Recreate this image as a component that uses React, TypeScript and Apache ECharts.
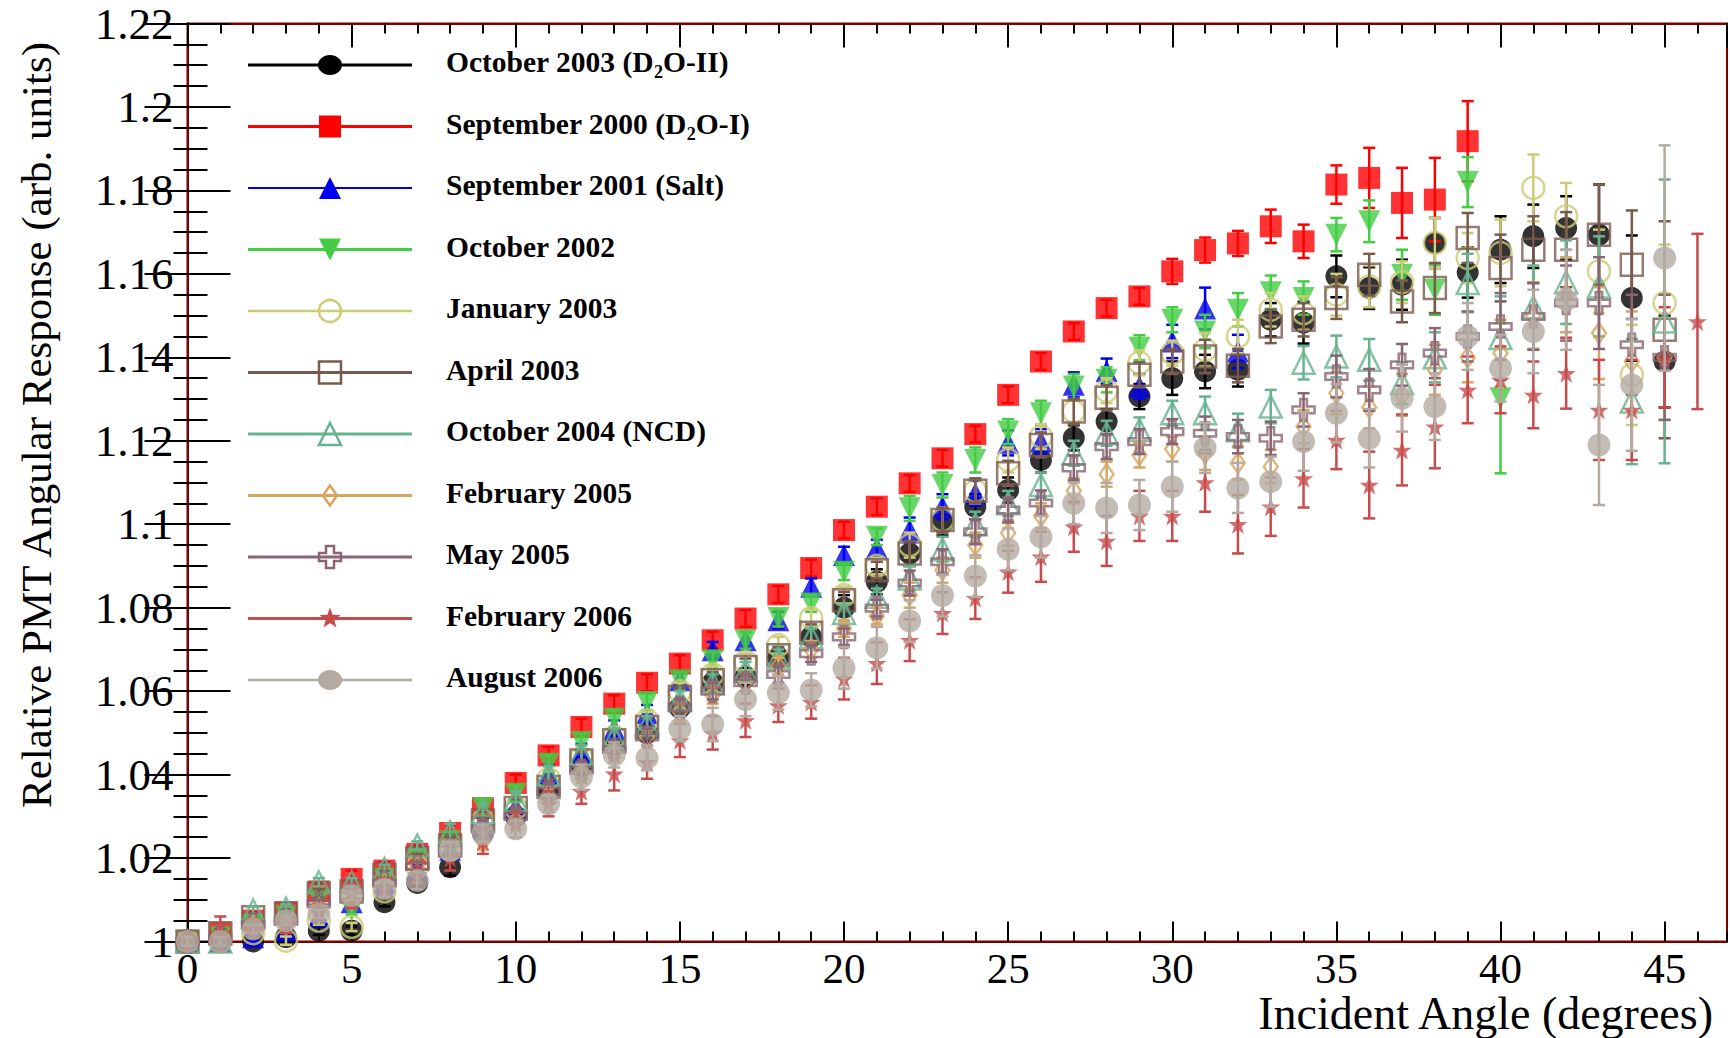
import React, { useEffect, useRef } from "react";
import * as echarts from "echarts";

const ANGLES = [0,1,2,3,4,5,6,7,8,9,10,11,12,13,14,15,16,17,18,19,20,21,22,23,24,25,26,27,28,29,30,31,32,33,34,35,36,37,38,39,40,41,42,43,44,45,46];

const OCT2003 = [1.000,1.000,1.000,1.001,1.0026,1.0026,1.0094,1.014,1.0178,1.026,1.030,1.036,1.042,1.047,1.050,1.056,1.062,1.0634,1.068,1.073,1.080,1.0862,1.093,1.1003,1.1042,1.1082,1.1154,1.1207,1.1246,1.1306,1.135,1.1366,1.137,1.149,1.1483,1.1594,1.1566,1.1574,1.1674,1.1603,1.1658,1.169,1.171,1.1694,1.1542,1.139];
const OCT2003_ERR = [0.001,0.001,0.001,0.001,0.001,0.001,0.001,0.001,0.002,0.002,0.002,0.002,0.002,0.002,0.002,0.002,0.002,0.002,0.002,0.002,0.003,0.003,0.003,0.003,0.003,0.003,0.003,0.003,0.003,0.003,0.004,0.004,0.004,0.004,0.005,0.005,0.005,0.006,0.006,0.006,0.008,0.0076,0.0076,0.012,0.015,0.011];

const SEP2000 = [1.000,1.002,1.005,1.007,1.012,1.015,1.017,1.021,1.026,1.032,1.038,1.0446,1.0514,1.057,1.062,1.0666,1.0722,1.0774,1.0832,1.0895,1.0986,1.1042,1.1098,1.1158,1.1216,1.131,1.139,1.1462,1.1518,1.1546,1.1606,1.1657,1.1673,1.1714,1.1678,1.1814,1.183,1.177,1.1778,1.1918];
const SEP2000_ERR = [0.001,0.001,0.002,0.002,0.002,0.002,0.002,0.002,0.002,0.002,0.002,0.002,0.002,0.002,0.002,0.002,0.002,0.002,0.002,0.002,0.002,0.002,0.002,0.002,0.002,0.002,0.002,0.002,0.002,0.002,0.003,0.003,0.003,0.004,0.004,0.0046,0.0072,0.0084,0.010,0.0096];

const SEP2001 = [1.000,1.000,1.001,1.0026,1.006,1.0094,1.014,1.0175,1.022,1.0278,1.0322,1.0402,1.0454,1.051,1.0547,1.0626,1.0698,1.0722,1.077,1.085,1.0926,1.0943,1.0986,1.1042,1.1074,1.1195,1.1198,1.1334,1.1367,1.133,1.1438,1.1517,1.1414];
const SEP2001_ERR = [0.001,0.001,0.001,0.001,0.001,0.001,0.001,0.001,0.002,0.002,0.002,0.002,0.002,0.002,0.002,0.002,0.002,0.002,0.002,0.002,0.002,0.002,0.003,0.003,0.003,0.003,0.003,0.003,0.003,0.003,0.004,0.005,0.004];

const OCT2002 = [1.000,1.001,1.004,1.006,1.010,1.0074,1.015,1.020,1.024,1.032,1.0354,1.0426,1.0478,1.0534,1.0574,1.0626,1.0674,1.0722,1.0775,1.081,1.0886,1.097,1.1038,1.1094,1.1154,1.1222,1.1266,1.133,1.1346,1.1423,1.149,1.1462,1.1514,1.1556,1.1542,1.1694,1.1726,1.1598,1.1562,1.182,1.1302];
const OCT2002_ERR = [0.001,0.001,0.001,0.001,0.001,0.001,0.001,0.001,0.002,0.002,0.002,0.002,0.002,0.002,0.002,0.002,0.002,0.002,0.002,0.002,0.002,0.002,0.003,0.003,0.003,0.003,0.003,0.003,0.003,0.003,0.003,0.004,0.004,0.004,0.004,0.004,0.005,0.006,0.006,0.006,0.018];

const JAN2003 = [1.000,1.000,1.002,1.0002,1.005,1.0035,1.012,1.018,1.022,1.029,1.032,1.039,1.044,1.049,1.053,1.060,1.064,1.067,1.071,1.0775,1.083,1.090,1.095,1.101,1.108,1.1154,1.121,1.127,1.132,1.1387,1.141,1.1418,1.145,1.1514,1.1506,1.155,1.157,1.158,1.1674,1.1638,1.165,1.1806,1.1738,1.1606,1.1358,1.153];
const JAN2003_ERR = [0.001,0.001,0.001,0.001,0.001,0.001,0.001,0.001,0.002,0.002,0.002,0.002,0.002,0.002,0.002,0.002,0.002,0.002,0.002,0.002,0.002,0.002,0.003,0.003,0.003,0.003,0.003,0.003,0.003,0.003,0.003,0.004,0.004,0.004,0.004,0.005,0.005,0.005,0.006,0.006,0.008,0.008,0.008,0.010,0.012,0.014];

const APR2003 = [1.000,1.002,1.0058,1.0067,1.0115,1.012,1.016,1.020,1.023,1.029,1.032,1.037,1.0434,1.0482,1.0514,1.0586,1.0626,1.0658,1.0686,1.074,1.0818,1.089,1.093,1.101,1.108,1.1122,1.119,1.127,1.1303,1.1358,1.139,1.1402,1.138,1.1474,1.149,1.1542,1.1598,1.1534,1.1566,1.1686,1.1614,1.1658,1.1658,1.1694,1.1622,1.1466];
const APR2003_ERR = [0.001,0.001,0.001,0.001,0.001,0.001,0.001,0.001,0.002,0.002,0.002,0.002,0.002,0.002,0.002,0.002,0.002,0.002,0.002,0.002,0.002,0.002,0.003,0.003,0.003,0.003,0.003,0.003,0.003,0.003,0.003,0.004,0.004,0.004,0.004,0.005,0.005,0.005,0.006,0.006,0.008,0.008,0.009,0.012,0.013,0.026];

const OCT2004 = [1.000,1.000,1.0074,1.0079,1.0142,1.0142,1.0174,1.023,1.0262,1.031,1.034,1.040,1.045,1.049,1.052,1.058,1.062,1.065,1.068,1.073,1.0787,1.0826,1.087,1.094,1.100,1.105,1.1094,1.117,1.1218,1.1226,1.1266,1.1266,1.1225,1.1282,1.1387,1.1402,1.1394,1.1338,1.140,1.1578,1.1446,1.152,1.158,1.157,1.1294,1.1486];
const OCT2004_ERR = [0.001,0.001,0.001,0.001,0.001,0.001,0.001,0.001,0.002,0.002,0.002,0.002,0.002,0.002,0.002,0.002,0.002,0.002,0.002,0.002,0.002,0.002,0.003,0.003,0.003,0.003,0.003,0.003,0.003,0.003,0.003,0.004,0.004,0.004,0.004,0.005,0.005,0.005,0.006,0.007,0.010,0.010,0.010,0.012,0.015,0.034];

const FEB2005 = [1.000,1.001,1.004,1.004,1.008,1.010,1.014,1.018,1.022,1.024,1.029,1.035,1.040,1.045,1.049,1.055,1.059,1.062,1.066,1.070,1.075,1.078,1.083,1.089,1.095,1.0979,1.102,1.108,1.112,1.1166,1.118,1.117,1.1147,1.1138,1.1234,1.1314,1.128,1.131,1.137,1.140,1.141,1.150,1.155,1.1458,1.139,1.140];
const FEB2005_ERR = [0.001,0.001,0.001,0.001,0.001,0.001,0.001,0.001,0.002,0.002,0.002,0.002,0.002,0.002,0.002,0.002,0.002,0.002,0.002,0.002,0.002,0.002,0.003,0.003,0.003,0.003,0.003,0.003,0.003,0.003,0.003,0.004,0.004,0.004,0.004,0.005,0.005,0.005,0.006,0.006,0.008,0.008,0.009,0.011,0.012,0.015];

const MAY2005 = [1.000,1.001,1.004,1.005,1.009,1.011,1.014,1.018,1.022,1.027,1.030,1.036,1.041,1.046,1.049,1.056,1.060,1.062,1.064,1.069,1.073,1.0799,1.0859,1.091,1.0982,1.1034,1.1051,1.1135,1.1186,1.1198,1.1222,1.1218,1.121,1.1206,1.1274,1.1354,1.1322,1.1382,1.141,1.145,1.1474,1.1498,1.153,1.153,1.143,1.140];
const MAY2005_ERR = [0.001,0.001,0.001,0.001,0.001,0.001,0.001,0.001,0.002,0.002,0.002,0.002,0.002,0.002,0.002,0.002,0.002,0.002,0.002,0.002,0.002,0.002,0.003,0.003,0.003,0.003,0.003,0.003,0.003,0.003,0.003,0.004,0.004,0.004,0.004,0.005,0.005,0.005,0.006,0.006,0.008,0.008,0.009,0.011,0.012,0.015];

const FEB2006 = [1.000,1.002,1.003,1.004,1.007,1.010,1.013,1.016,1.020,1.024,1.028,1.033,1.036,1.0402,1.043,1.0482,1.050,1.053,1.0566,1.0574,1.063,1.0667,1.0722,1.0787,1.0823,1.0886,1.0922,1.0994,1.096,1.102,1.102,1.110,1.100,1.1042,1.111,1.1202,1.1094,1.1178,1.1234,1.1322,1.1346,1.131,1.1362,1.1274,1.1274,1.140,1.1486];
const FEB2006_ERR = [0.002,0.004,0.002,0.002,0.002,0.002,0.002,0.002,0.003,0.003,0.003,0.003,0.003,0.004,0.004,0.004,0.004,0.004,0.004,0.004,0.005,0.005,0.005,0.005,0.005,0.005,0.006,0.006,0.006,0.006,0.006,0.007,0.007,0.007,0.007,0.007,0.008,0.0085,0.010,0.008,0.008,0.008,0.0085,0.012,0.012,0.012,0.021];

const AUG2006 = [1.000,1.000,1.003,1.005,1.0066,1.011,1.0126,1.0146,1.0218,1.0259,1.027,1.033,1.0394,1.0447,1.044,1.051,1.052,1.058,1.0596,1.0603,1.0656,1.0704,1.0768,1.0829,1.0876,1.094,1.097,1.105,1.1039,1.1046,1.109,1.1183,1.1087,1.1102,1.1198,1.1266,1.1206,1.1302,1.1282,1.145,1.1374,1.1462,1.1538,1.119,1.1334,1.1638];
const AUG2006_ERR = [0.001,0.001,0.001,0.001,0.001,0.001,0.002,0.002,0.002,0.002,0.002,0.002,0.003,0.003,0.003,0.003,0.004,0.004,0.004,0.004,0.005,0.005,0.005,0.005,0.005,0.005,0.005,0.005,0.006,0.006,0.006,0.006,0.006,0.006,0.007,0.007,0.007,0.008,0.008,0.008,0.008,0.010,0.012,0.0144,0.0158,0.027];

const LABELS = [
  "October 2003 (D2O-II)",
  "September 2000 (D2O-I)",
  "September 2001 (Salt)",
  "October 2002",
  "January 2003",
  "April 2003",
  "October 2004 (NCD)",
  "February 2005",
  "May 2005",
  "February 2006",
  "August 2006",
];
const RICH_LABELS = [
  "October 2003 (D{s|2}O-II)",
  "September 2000 (D{s|2}O-I)",
  "September 2001 (Salt)",
  "October 2002",
  "January 2003",
  "April 2003",
  "October 2004 (NCD)",
  "February 2005",
  "May 2005",
  "February 2006",
  "August 2006",
];
const X_TITLE = "Incident Angle (degrees)";
const Y_TITLE = "Relative PMT Angular Response (arb. units)";

const CROSS_PATH = "path://M35,0 L65,0 L65,35 L100,35 L100,65 L65,65 L65,100 L35,100 L35,65 L0,65 L0,35 L35,35 Z";
const STAR_PATH = "path://M50,0 L61.8,35.1 L97.6,35.1 L68.8,56.8 L79.4,91 L50,70.5 L20.6,91 L31.2,56.8 L2.4,35.1 L38.2,35.1 Z";

type Style = { color: string; kind: string; lw: number };
const STYLES: Style[] = [
  { color: "#000000", kind: "circle", lw: 3 },
  { color: "#ff0000", kind: "square", lw: 3 },
  { color: "#0000ee", kind: "triUp", lw: 2 },
  { color: "#44cc44", kind: "triDown", lw: 3 },
  { color: "#cccc77", kind: "openCircle", lw: 2.5 },
  { color: "#7b5a4e", kind: "openSquare", lw: 3 },
  { color: "#66b38f", kind: "openTri", lw: 3 },
  { color: "#d6a560", kind: "diamond", lw: 3 },
  { color: "#8a6474", kind: "cross", lw: 3 },
  { color: "#c84a4a", kind: "star", lw: 3 },
  { color: "#b3aba3", kind: "grayCircle", lw: 2.5 },
];
const VALUES = [OCT2003, SEP2000, SEP2001, OCT2002, JAN2003, APR2003, OCT2004, FEB2005, MAY2005, FEB2006, AUG2006];
const ERRORS = [OCT2003_ERR, SEP2000_ERR, SEP2001_ERR, OCT2002_ERR, JAN2003_ERR, APR2003_ERR, OCT2004_ERR, FEB2005_ERR, MAY2005_ERR, FEB2006_ERR, AUG2006_ERR];

const FONT = "'Liberation Serif', 'Times New Roman', serif";

function scatterSymbol(kind: string, color: string): any {
  const open = { color: "rgba(0,0,0,0)", borderColor: color, borderWidth: 2.5 };
  switch (kind) {
    case "circle": return { symbol: "circle", symbolSize: 22, itemStyle: { color } };
    case "square": return { symbol: "rect", symbolSize: 22, itemStyle: { color } };
    case "triUp": return { symbol: "triangle", symbolSize: 22, itemStyle: { color } };
    case "triDown": return { symbol: "triangle", symbolSize: 22, symbolRotate: 180, itemStyle: { color } };
    case "openCircle": return { symbol: "circle", symbolSize: 22, itemStyle: open };
    case "openSquare": return { symbol: "rect", symbolSize: 22, itemStyle: open };
    case "openTri": return { symbol: "triangle", symbolSize: 22, itemStyle: open };
    case "diamond": return { symbol: "diamond", symbolSize: [14, 20], itemStyle: open };
    case "cross": return { symbol: CROSS_PATH, symbolSize: 22, itemStyle: open };
    case "star": return { symbol: STAR_PATH, symbolSize: 19, itemStyle: { color } };
    default: return { symbol: "circle", symbolSize: 23, itemStyle: { color } };
  }
}

function legendMarker(kind: string, cx: number, cy: number, color: string): any {
  const s = 11;
  const fill = { fill: color };
  const open = { fill: "none", stroke: color, lineWidth: 2.5 };
  switch (kind) {
    case "circle": return { type: "ellipse", shape: { cx, cy, rx: 12, ry: 10 }, style: fill };
    case "square": return { type: "rect", shape: { x: cx - s, y: cy - s, width: 2 * s, height: 2 * s }, style: fill };
    case "triUp": return { type: "polygon", shape: { points: [[cx, cy - s], [cx + s, cy + s], [cx - s, cy + s]] }, style: fill };
    case "triDown": return { type: "polygon", shape: { points: [[cx, cy + s], [cx + s, cy - s], [cx - s, cy - s]] }, style: fill };
    case "openCircle": return { type: "circle", shape: { cx, cy, r: s }, style: open };
    case "openSquare": return { type: "rect", shape: { x: cx - s, y: cy - s, width: 2 * s, height: 2 * s }, style: open };
    case "openTri": return { type: "polygon", shape: { points: [[cx, cy - s], [cx + s, cy + s], [cx - s, cy + s]] }, style: open };
    case "diamond": return { type: "polygon", shape: { points: [[cx, cy - 10], [cx + 7, cy], [cx, cy + 10], [cx - 7, cy]] }, style: open };
    case "cross": {
      const a = 4, b = 11;
      return { type: "polygon", shape: { points: [[cx - a, cy - b], [cx + a, cy - b], [cx + a, cy - a], [cx + b, cy - a], [cx + b, cy + a], [cx + a, cy + a], [cx + a, cy + b], [cx - a, cy + b], [cx - a, cy + a], [cx - b, cy + a], [cx - b, cy - a], [cx - a, cy - a]] }, style: open };
    }
    case "star": {
      const pts: number[][] = [];
      for (let k = 0; k < 10; k++) {
        const r = k % 2 === 0 ? 11 : 4.5;
        const ang = -Math.PI / 2 + (k * Math.PI) / 5;
        pts.push([cx + r * Math.cos(ang), cy + r * Math.sin(ang)]);
      }
      return { type: "polygon", shape: { points: pts }, style: fill };
    }
    default: return { type: "ellipse", shape: { cx, cy, rx: 12, ry: 10 }, style: fill };
  }
}

const makeErrRender = (color: string) => (_params: any, api: any) => {
  const x = api.value(0), y = api.value(1), e = api.value(2);
  const p1 = api.coord([x, y + e]);
  const p2 = api.coord([x, y - e]);
  const hw = 6;
  const st = { stroke: color, lineWidth: 2.5 };
  return {
    type: "group",
    children: [
      { type: "line", shape: { x1: p1[0], y1: p1[1], x2: p2[0], y2: p2[1] }, style: st },
      { type: "line", shape: { x1: p1[0] - hw, y1: p1[1], x2: p1[0] + hw, y2: p1[1] }, style: st },
      { type: "line", shape: { x1: p2[0] - hw, y1: p2[1], x2: p2[0] + hw, y2: p2[1] }, style: st },
    ],
  };
};

export default function App() {
  const ref = useRef<HTMLDivElement>(null);
  useEffect(() => {
    const chart = echarts.init(ref.current!, null, { renderer: "svg" });
    const XMAX = 46.9;
    const series: any[] = [];
    VALUES.forEach((vals, i) => {
      const st = STYLES[i];
      const errs = ERRORS[i];
      const pts = vals.map((v, j) => [ANGLES[j], v]);
      const errPts = vals.map((v, j) => [ANGLES[j], v, errs[j]]);
      series.push({
        type: "custom",
        name: LABELS[i] + " err",
        renderItem: makeErrRender(st.color),
        data: errPts,
        encode: { x: 0, y: 1 },
        z: 2 + i * 2,
        silent: true,
        clip: false,
      });
      series.push({
        type: "scatter",
        name: LABELS[i],
        data: pts,
        z: 3 + i * 2,
        silent: true,
        ...scatterSymbol(st.kind, st.color),
      });
    });

    const tickBlack = { color: "#000", width: 2 };
    const frame = { show: true, lineStyle: { color: "#7a0000", width: 2 } };
    const graphics: any[] = [];
    LABELS.forEach((_l, i) => {
      const st = STYLES[i];
      const cy = 65 + i * 61.5;
      graphics.push({ type: "line", shape: { x1: 248, y1: cy, x2: 412, y2: cy }, style: { stroke: st.color, lineWidth: st.lw }, z: 100 });
      graphics.push({ ...legendMarker(st.kind, 330, cy, st.color), z: 101 });
      graphics.push({
        type: "text",
        x: 446,
        y: cy - 3,
        z: 101,
        style: {
          text: RICH_LABELS[i],
          fill: "#000",
          fontFamily: FONT,
          fontSize: 29.5,
          fontWeight: "bold",
          verticalAlign: "middle",
          align: "left",
          rich: { s: { fontSize: 18, fontWeight: "bold", fontFamily: FONT, padding: [20, 0, 0, 0] } },
        },
      });
    });
    graphics.push({
      type: "text", x: 1713, y: 1013, z: 101,
      style: { text: X_TITLE, fill: "#000", fontFamily: FONT, fontSize: 46, lineHeight: 42, align: "right", verticalAlign: "middle" },
    });
    graphics.push({
      type: "text", x: 36, y: 425, rotation: Math.PI / 2, z: 101,
      style: { text: Y_TITLE, fill: "#000", fontFamily: FONT, fontSize: 43, align: "center", verticalAlign: "middle" },
    });

    const tk = (len: number) => ({ inside: true, length: len, lineStyle: tickBlack });
    chart.setOption({
      animation: false,
      backgroundColor: "#ffffff",
      grid: { left: 187.5, right: 3, top: 23.5, bottom: 96.5, show: true, borderColor: "#7a0000", borderWidth: 2, backgroundColor: "rgba(0,0,0,0)" },
      xAxis: [
        {
          type: "value", min: 0, max: XMAX, interval: 5, position: "bottom",
          axisLine: frame, splitLine: { show: false },
          axisTick: tk(20),
          axisLabel: { showMaxLabel: false, fontFamily: FONT, fontSize: 43, lineHeight: 38, color: "#000", margin: 8 },
        },
        { type: "value", min: 0, max: XMAX, interval: 1, position: "bottom", axisLine: frame, splitLine: { show: false }, axisTick: tk(10), axisLabel: { show: false } },
        { type: "value", min: 0, max: XMAX, interval: 5, position: "top", axisLine: frame, splitLine: { show: false }, axisTick: tk(24), axisLabel: { show: false } },
        { type: "value", min: 0, max: XMAX, interval: 1, position: "top", axisLine: frame, splitLine: { show: false }, axisTick: tk(10), axisLabel: { show: false } },
      ],
      yAxis: [
        {
          type: "value", min: 1, max: 1.22, interval: 0.02, position: "left",
          axisLine: frame, splitLine: { show: false },
          axisTick: tk(43),
          minorTick: { show: true, splitNumber: 4, length: 20, lineStyle: tickBlack },
          axisLabel: { fontFamily: FONT, fontSize: 45, color: "#000", margin: 14 },
        },
        {
          type: "value", min: 1, max: 1.22, interval: 0.02, position: "right",
          axisLine: frame, splitLine: { show: false },
          axisTick: tk(43),
          minorTick: { show: true, splitNumber: 4, length: 14, lineStyle: tickBlack },
          axisLabel: { show: false },
        },
      ],
      series,
      graphic: { elements: graphics },
    });
    return () => chart.dispose();
  }, []);
  return <div ref={ref} style={{ position: "absolute", left: 0, top: 0, width: 1730, height: 1038, background: "#fff" }} />;
}
